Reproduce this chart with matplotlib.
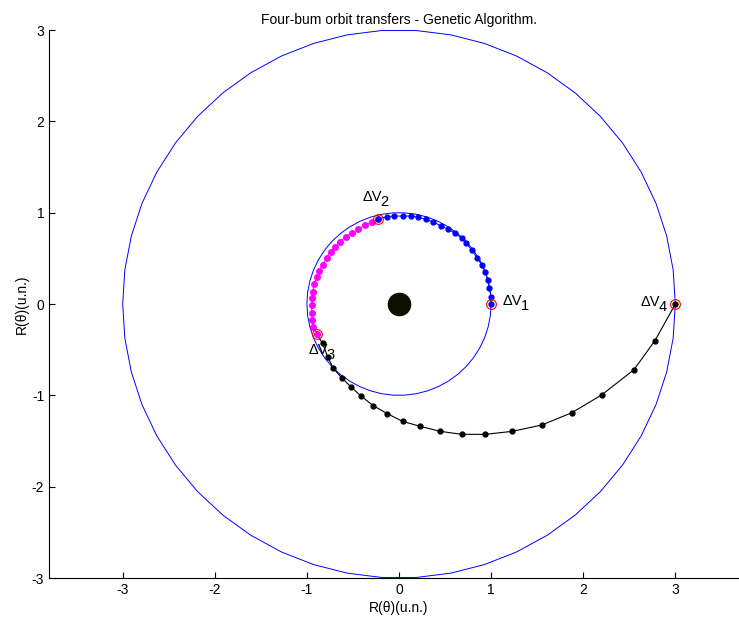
import matplotlib.pyplot as plt
import numpy as np

plt.rcParams['font.family'] = ['Liberation Sans', 'DejaVu Sans']
plt.rcParams['axes.unicode_minus'] = False
plt.rcParams['font.size'] = 10

# orbit radii (u.n.)
orbit_radii = [1.0, 3.0]

# first transfer arc (blue), from dV1 to dV2
arc1_x = [1.0, 1.0, 0.98, 0.97, 0.935, 0.90, 0.85, 0.79, 0.73, 0.68, 0.61, 0.536,
          0.457, 0.373, 0.29, 0.21, 0.127, 0.04, -0.05, -0.134, -0.23]
arc1_y = [0.0, 0.08, 0.17, 0.26, 0.354, 0.427, 0.50, 0.59, 0.665, 0.72, 0.774, 0.817,
          0.854, 0.898, 0.927, 0.949, 0.963, 0.963, 0.963, 0.956, 0.93]

# second transfer arc (magenta), from dV2 to dV3
arc2_x = [-0.23, -0.297, -0.37, -0.44, -0.514, -0.58, -0.64, -0.696, -0.74, -0.786,
          -0.83, -0.866, -0.895, -0.92, -0.938, -0.949, -0.949, -0.949, -0.94, -0.93, -0.895]
arc2_y = [0.93, 0.90, 0.865, 0.818, 0.774, 0.737, 0.682, 0.627, 0.573, 0.507,
          0.427, 0.365, 0.292, 0.219, 0.135, 0.062, -0.011, -0.095, -0.175, -0.248, -0.328]

# third transfer arc (black), from dV3 to dV4
arc3_x = [-0.895, -0.83, -0.775, -0.714, -0.623, -0.525, -0.413, -0.279, -0.127, 0.040,
          0.232, 0.446, 0.681, 0.938, 1.232, 1.55, 1.877, 2.20, 2.55, 2.78, 3.0]
arc3_y = [-0.328, -0.43, -0.577, -0.704, -0.807, -0.905, -1.007, -1.113, -1.201, -1.285,
          -1.340, -1.394, -1.427, -1.427, -1.394, -1.325, -1.19, -0.996, -0.72, -0.40, 0.0]

# burn points
burn_x = [1.0, -0.23, -0.895, 3.0]
burn_y = [0.0, 0.93, -0.328, 0.0]
burn_labels = ['1', '2', '3', '4']
label_x = [1.13, -0.40, -0.98, 2.62]
label_y = [0.03, 1.17, -0.50, 0.02]

fig = plt.figure(figsize=(7.39, 6.23), dpi=100)
ax = fig.add_axes([49/739, 45/623, 700/739, 548/623])

t = np.linspace(0, 2*np.pi, 51)
for r in orbit_radii:
    ax.plot(r*np.cos(t), r*np.sin(t), color='#0000ff', lw=0.7)

ax.plot(arc3_x, arc3_y, '.-', color='black', lw=0.8, markersize=7)
ax.plot(arc2_x, arc2_y, '.-', color='#ff00ff', lw=0.7, markersize=8)
ax.plot(arc1_x, arc1_y, '.-', color='#0000ff', lw=0.7, markersize=7)

ax.plot(burn_x, burn_y, 'o', mfc='none', mec='red', mew=0.8, markersize=7)
ax.plot([0], [0], 'o', color='#120d02', markersize=16)

for lx, ly, s in zip(label_x, label_y, burn_labels):
    ax.annotate('\u0394V', (lx, ly), ha='left', va='center', fontsize=10.5)
    ax.annotate(s, (lx, ly), xytext=(13, -3.5), textcoords='offset points',
                ha='left', va='center', fontsize=10.5)

ax.set_xlim(-3.8, 3.8)
ax.set_ylim(-3, 3)
ax.set_xticks(np.arange(-3, 4))
ax.set_yticks(np.arange(-3, 4))
ax.tick_params(direction='in', length=4, width=0.8, labelsize=10)
ax.spines['top'].set_visible(False)
ax.spines['right'].set_visible(False)
ax.set_xlabel('R(\u03b8)(u.n.)', labelpad=3)
ax.set_ylabel('R(\u03b8)(u.n.)', labelpad=2)
ax.set_title('Four-bum orbit transfers - Genetic Algorithm.', fontsize=10, pad=4)

fig.savefig('out.png', dpi=100)
